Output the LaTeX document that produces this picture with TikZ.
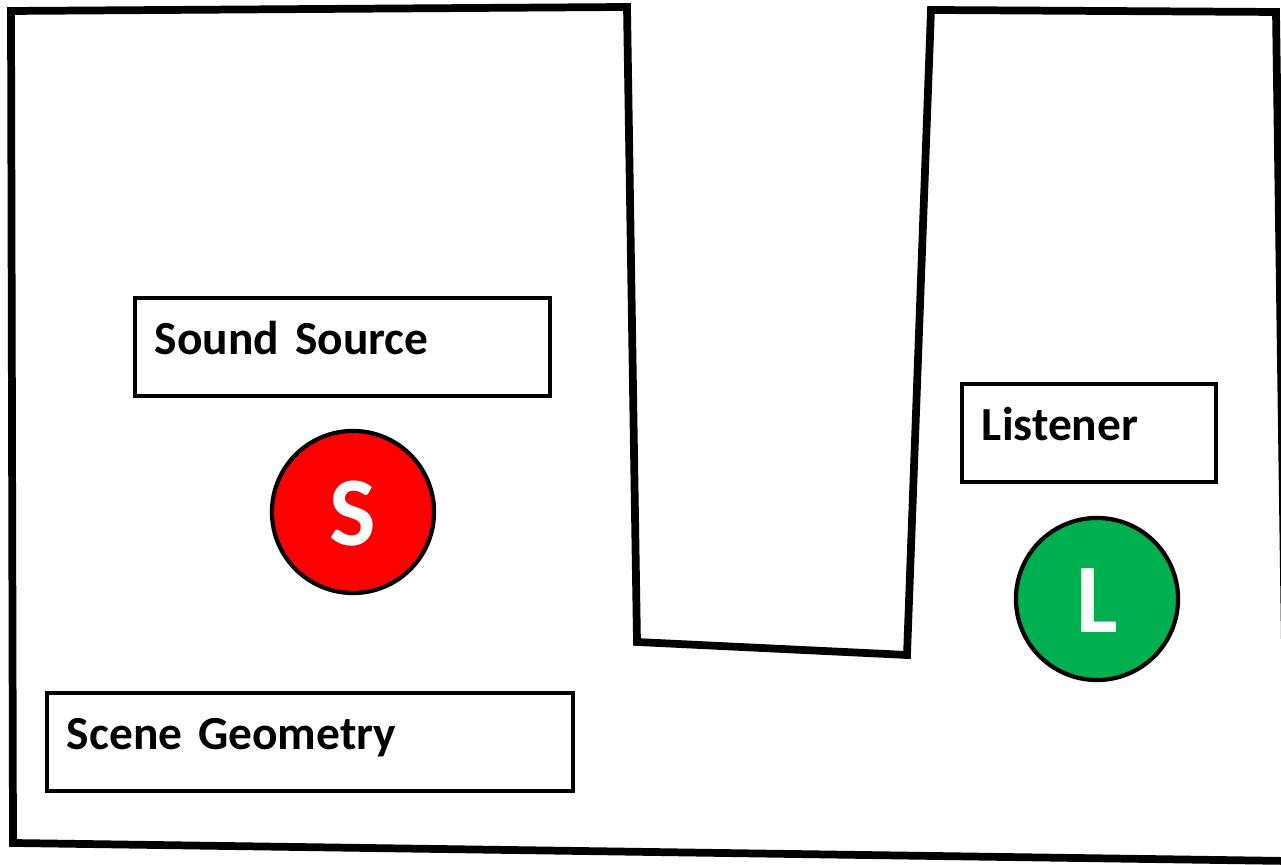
\documentclass[tikz,border=0pt]{standalone}
\usepackage{fontspec}
\setmainfont{Carlito}
\usepackage{tikz}
\definecolor{srcred}{RGB}{255,0,0}
\definecolor{lisgreen}{RGB}{0,176,80}

\begin{document}
\begin{tikzpicture}[x=0.01cm,y=-0.01cm,
	wall/.style={line width=2.2pt,line join=miter},
	tag/.style={draw,line width=1pt,minimum height=0.98cm,inner xsep=0.2cm,align=left,
		text height=0.4cm,text depth=0.24cm,font=\fontsize{13.5}{15}\selectfont\bfseries},
	blob/.style={circle,draw,line width=1.2pt,minimum size=1.62cm,inner sep=0pt,
		text=white,text height=0.66cm,text depth=0cm,font=\fontsize{28}{30}\selectfont\bfseries}]
				\useasboundingbox (0,0) rectangle (1281,865);
				
				% room walls
				\draw[wall] (11,11) -- (627,7) -- (637,642) -- (907,655) -- (931,10)
					-- (1276,12) -- (1288,861) -- (13,843) -- cycle;
				
				\node[tag,text width=3.75cm] (source) at (342.5,347) {Sound Source};
				\node[tag,text width=2.14cm] (listener) at (1089,433) {Listener};
				\node[tag,text width=4.86cm] (geometry) at (310,742) {Scene Geometry};
				
				\node[blob,fill=srcred] (srcdot) at (353,512) {S};
				\node[blob,fill=lisgreen] (lisdot) at (1097,599) {L};
			\end{tikzpicture}
\end{document}
